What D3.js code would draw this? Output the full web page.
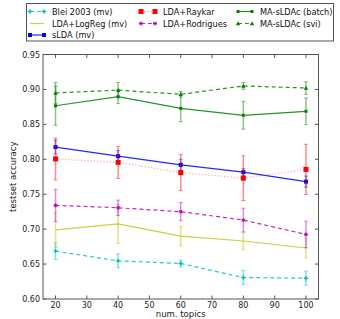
<!DOCTYPE html>
<html><head><meta charset="utf-8">
<script src="https://cdn.jsdelivr.net/npm/d3@7"></script>
<style>body{margin:0;background:#fff}svg{display:block;font-family:"DejaVu Sans",sans-serif}</style>
</head><body><svg id="c" width="340" height="319"></svg>
<script>
const topics = [20, 40, 60, 80, 100];
const xTicks = [20, 30, 40, 50, 60, 70, 80, 90, 100];
const yTicks = [0.60, 0.65, 0.70, 0.75, 0.80, 0.85, 0.90, 0.95];
const seriesNames = ["Blei 2003 (mv)", "LDA+LogReg (mv)", "sLDA (mv)", "LDA+Raykar", "LDA+Rodrigues", "MA-sLDAc (batch)", "MA-sLDAc (svi)"];
const blei = [0.6685, 0.6546, 0.6508, 0.6307, 0.6298];
const bleiErr = [0.012, 0.010, 0.005, 0.010, 0.010];
const logreg = [0.699, 0.7076, 0.690, 0.683, 0.673];
const logregErr = [0.025, 0.028, 0.014, 0.012, 0.014];
const slda = [0.8175, 0.8044, 0.792, 0.7816, 0.768];
const sldaErr = [0.010, 0.008, 0.008, 0.005, 0.008];
const raykar = [0.8005, 0.7956, 0.781, 0.773, 0.7855];
const raykarErr = [0.030, 0.023, 0.026, 0.032, 0.036];
const rodrigues = [0.734, 0.7306, 0.725, 0.713, 0.6924];
const rodriguesErr = [0.023, 0.011, 0.013, 0.017, 0.019];
const batch = [0.8766, 0.8897, 0.873, 0.863, 0.8687];
const batchErr = [0.028, 0.010, 0.019, 0.020, 0.019];
const svi = [0.895, 0.899, 0.893, 0.905, 0.902];
const sviErr = [0.015, 0.011, 0.004, 0.005, 0.009];

const styles = [
  {c:"#00bfbf", dash:"4,3", m:"plus", lineOp:0.85},
  {c:"#bfbf00", dash:null, m:null, lineOp:0.75},
  {c:"#0000ff", dash:null, m:"sq", lineOp:0.85},
  {c:"#ff0000", dash:"1.2,2", m:"bigsq", lineOp:0.35},
  {c:"#bf00bf", dash:"4,3", m:"star", lineOp:0.85},
  {c:"#008000", dash:null, m:"dot", lineOp:0.85},
  {c:"#008000", dash:"4,3", m:"tri", lineOp:0.85}
];
const vals = [blei, logreg, slda, raykar, rodrigues, batch, svi];
const errs = [bleiErr, logregErr, sldaErr, raykarErr, rodriguesErr, batchErr, sviErr];

const svg = d3.select("#c");
const L = 43, R = 318.5, T = 54.5, B = 299;
const x = d3.scaleLinear().domain([16, 104]).range([L, R]);
const y = d3.scaleLinear().domain([0.60, 0.95]).range([B, T]);

function marker(g, type, cx, cy, c) {
  if (!type) return;
  if (type === "sq") g.append("rect").attr("x", cx-2).attr("y", cy-2).attr("width", 4).attr("height", 4).attr("fill", c);
  else if (type === "bigsq") g.append("rect").attr("x", cx-2.5).attr("y", cy-2.5).attr("width", 5).attr("height", 5).attr("fill", c);
  else if (type === "dot") g.append("rect").attr("x", cx-1.5).attr("y", cy-1.5).attr("width", 3).attr("height", 3).attr("fill", c);
  else if (type === "tri") g.append("path").attr("d", `M${cx},${cy-2.2}L${cx+2.2},${cy+1.8}L${cx-2.2},${cy+1.8}Z`).attr("fill", c);
  else if (type === "plus") g.append("path").attr("d", `M${cx-2.2},${cy}H${cx+2.2}M${cx},${cy-2.2}V${cy+2.2}`).attr("stroke", c).attr("stroke-width", 1.4);
  else if (type === "star") g.append("path").attr("d", `M${cx-2},${cy}H${cx+2}M${cx},${cy-2}V${cy+2}M${cx-1.5},${cy-1.5}L${cx+1.5},${cy+1.5}M${cx-1.5},${cy+1.5}L${cx+1.5},${cy-1.5}`).attr("stroke", c).attr("stroke-width", 1);
}

const plot = svg.append("g");
vals.forEach((v, i) => {
  const s = styles[i], g = plot.append("g");
  topics.forEach((t, j) => {
    const cx = x(t), y1 = y(v[j] + errs[i][j]), y2 = y(v[j] - errs[i][j]);
    g.append("line").attr("x1", cx).attr("x2", cx).attr("y1", y1).attr("y2", y2)
      .attr("stroke", s.c).attr("stroke-width", 1.5).attr("opacity", 0.45);
    [y1, y2].forEach(yy => g.append("line").attr("x1", cx-2).attr("x2", cx+2).attr("y1", yy).attr("y2", yy)
      .attr("stroke", s.c).attr("stroke-width", 1).attr("opacity", 0.45));
  });
  const line = d3.line().x((d, j) => x(topics[j])).y(d => y(d));
  g.append("path").attr("d", line(v)).attr("fill", "none").attr("stroke", s.c)
    .attr("stroke-width", 1.2).attr("stroke-dasharray", s.dash).attr("opacity", s.lineOp);
  topics.forEach((t, j) => marker(g, s.m, x(t), y(v[j]), s.c));
});

svg.append("rect").attr("x", L).attr("y", T).attr("width", R-L).attr("height", B-T)
  .attr("fill", "none").attr("stroke", "#555").attr("stroke-width", 1);
const ax = svg.append("g").attr("font-size", 8).attr("fill", "#222");
xTicks.forEach(t => {
  const xx = x(t);
  ax.append("line").attr("x1", xx).attr("x2", xx).attr("y1", B).attr("y2", B-3.5).attr("stroke", "#555");
  ax.append("line").attr("x1", xx).attr("x2", xx).attr("y1", T).attr("y2", T+3.5).attr("stroke", "#555");
  ax.append("text").attr("x", xx).attr("y", B+9).attr("text-anchor", "middle").text(t);
});
yTicks.forEach(t => {
  const yy = y(t);
  ax.append("line").attr("x1", L).attr("x2", L+3.5).attr("y1", yy).attr("y2", yy).attr("stroke", "#555");
  ax.append("line").attr("x1", R).attr("x2", R-3.5).attr("y1", yy).attr("y2", yy).attr("stroke", "#555");
  ax.append("text").attr("x", L-3).attr("y", yy+3).attr("text-anchor", "end").text(t.toFixed(2));
});
ax.append("text").attr("x", (L+R)/2).attr("y", 317).attr("text-anchor", "middle").attr("font-size", 8.5).text("num. topics");
ax.append("text").attr("transform", `translate(16,${(T+B)/2}) rotate(-90)`).attr("text-anchor", "middle").attr("font-size", 8.5).text("testset accuracy");

const lg = svg.append("g");
lg.append("rect").attr("x", 26.5).attr("y", 3.5).attr("width", 307).attr("height", 37.5)
  .attr("fill", "#fff").attr("stroke", "#555").attr("stroke-width", 1);
const colX = [30, 141, 238], rowY = [11.5, 23.5, 35];
const legendCol = [0, 0, 0, 1, 1, 2, 2], legendRow = [0, 1, 2, 0, 1, 0, 1];
seriesNames.forEach((n, i) => {
  const hx = colX[legendCol[i]], hy = rowY[legendRow[i]], s = styles[i];
  lg.append("line").attr("x1", hx).attr("x2", hx+14).attr("y1", hy).attr("y2", hy)
    .attr("stroke", s.c).attr("stroke-width", 1.2).attr("stroke-dasharray", s.dash).attr("opacity", s.lineOp);
  if (s.m) { marker(lg, s.m, hx, hy, s.c); marker(lg, s.m, hx+14, hy, s.c); }
  lg.append("text").attr("x", hx+22).attr("y", hy+3).attr("font-size", 8.2).attr("fill", "#111").text(n);
});
</script></body></html>
